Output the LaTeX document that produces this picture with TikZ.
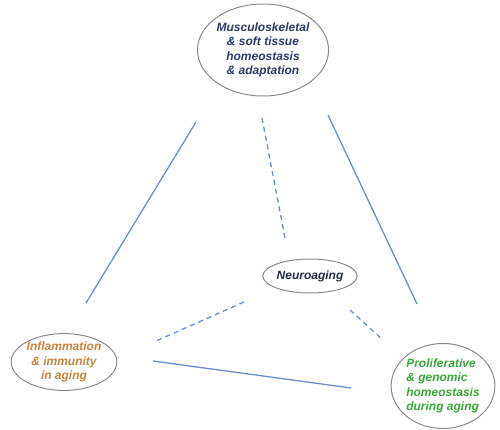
\documentclass[tikz,border=0pt]{standalone}
\usepackage{fontspec}
\setmainfont{Liberation Sans}
\usetikzlibrary{shapes.geometric}
\definecolor{linkblue}{HTML}{6A8FCB}
\definecolor{navytext}{HTML}{2B3A67}
\definecolor{neurotext}{HTML}{232B45}
\definecolor{orangetext}{HTML}{C8843C}
\definecolor{greentext}{HTML}{3AA83C}
\definecolor{rimgray}{HTML}{8A8A8A}
\tikzset{
  areabox/.style={ellipse, draw=rimgray, line width=1pt, inner sep=0pt, align=center,
    font=\fontsize{12}{14.5}\selectfont\bfseries\itshape},
  solidlink/.style={draw=linkblue, line width=1.3pt},
  dashlink/.style={draw=linkblue, line width=1.3pt, dash pattern=on 5pt off 4pt}
}
\begin{document}
\begin{tikzpicture}[x=1pt,y=-1pt]
\useasboundingbox (0,0) rectangle (500,430);
\node[areabox, text=navytext, minimum width=116pt, minimum height=92pt] (musc) at (263,50)
  {Musculoskeletal\\\& soft tissue\\homeostasis\\\& adaptation};
\node[areabox, text=neurotext, minimum width=91pt, minimum height=34pt] (neuro) at (310,276) {Neuroaging};
\node[areabox, text=orangetext, minimum width=104pt, minimum height=56pt] (infl) at (64,362)
  {Inflammation\\\& immunity\\in aging};
\node[areabox, text=greentext, align=left, minimum width=103pt, minimum height=85pt] (prol) at (443,386)
  {Proliferative\\\& genomic\\homeostasis\\during aging};
% connector end points
\coordinate (mL) at (196,122); \coordinate (iT) at (86,303);
\coordinate (mR) at (328,115); \coordinate (pT) at (417,304);
\coordinate (mD) at (262,118); \coordinate (nT) at (285,238);
\coordinate (iN) at (156,341); \coordinate (nL) at (244,302);
\coordinate (nR) at (350,310); \coordinate (pN) at (383,340);
\coordinate (iP) at (153,361); \coordinate (pI) at (351,388);
\draw[solidlink] (mL) -- (iT);
\draw[solidlink] (mR) -- (pT);
\draw[dashlink] (mD) -- (nT);
\draw[dashlink] (nL) -- (iN);
\draw[dashlink] (nR) -- (pN);
\draw[solidlink] (iP) -- (pI);
\end{tikzpicture}
\end{document}
